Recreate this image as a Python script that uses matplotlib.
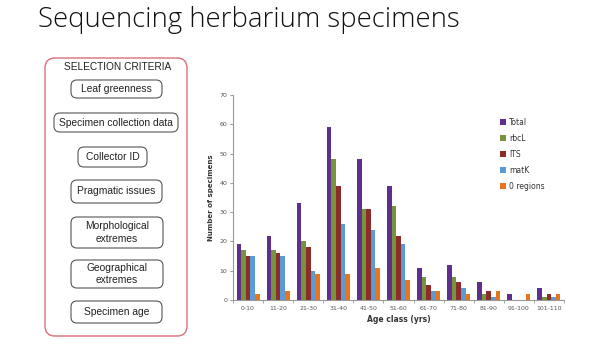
import matplotlib
matplotlib.use('Agg')
import matplotlib.pyplot as plt
import numpy as np
from matplotlib.patches import FancyBboxPatch

# 数据
age_classes = ['0-10', '11-20', '21-30', '31-40', '41-50', '51-60',
               '61-70', '71-80', '81-90', '91-100', '101-110']
total = [19, 22, 33, 59, 48, 39, 11, 12, 6, 2, 4]
rbcl = [17, 17, 20, 48, 31, 32, 8, 8, 2, 0, 1]
its = [15, 16, 18, 39, 31, 22, 5, 6, 3, 0, 2]
matk = [15, 15, 10, 26, 24, 19, 3, 4, 1, 0, 1]
zero_regions = [2, 3, 9, 9, 11, 7, 3, 2, 3, 2, 2]
series_names = ['Total', 'rbcL', 'ITS', 'matK', '0 regions']
y_ticks = [0, 10, 20, 30, 40, 50, 60, 70]

criteria = ['Leaf greenness', 'Specimen collection data', 'Collector ID',
            'Pragmatic issues', 'Morphological\nextremes',
            'Geographical\nextremes', 'Specimen age']

colors = ['#5f2f8f', '#77933c', '#8b2e2b', '#5b9bd5', '#e8741e']

fig = plt.figure(figsize=(6, 3.5), dpi=100)
fig.patch.set_facecolor('white')

# 覆盖层 (像素坐标)
ov = fig.add_axes([0, 0, 1, 1])
ov.set_xlim(0, 600)
ov.set_ylim(350, 0)
ov.axis('off')

ov.text(38, 20, 'Sequencing herbarium specimens', fontsize=19.8,
        family='Open Sans', fontweight='light', color='#111111',
        va='center', ha='left')

# 外框
ov.add_patch(FancyBboxPatch((45, 58), 142, 278,
                            boxstyle='round,pad=0,rounding_size=10',
                            fc='white', ec='#d9707a', lw=1.0))
ov.text(118, 67, 'SELECTION CRITERIA', fontsize=7.3, ha='center',
        va='center', color='#222222', family='Liberation Sans')

# 内框: (x0, x1, y0, y1)
boxes = [(71, 162, 80, 98), (54, 178, 113, 132), (78, 147, 147, 167),
         (71, 162, 180, 203), (71, 163, 217, 248), (71, 163, 260, 288),
         (71, 162, 301, 323)]
for (x0, x1, y0, y1), label in zip(boxes, criteria):
    ov.add_patch(FancyBboxPatch((x0, y0), x1 - x0, y1 - y0,
                                boxstyle='round,pad=0,rounding_size=6',
                                fc='white', ec='#555555', lw=0.8))
    ov.text((x0 + x1) / 2, (y0 + y1) / 2, label, fontsize=7.4, ha='center',
            va='center', color='#222222', family='Liberation Sans',
            linespacing=1.3)

# 柱状图
ax = fig.add_axes([233 / 600, 50 / 350, 331 / 600, 205 / 350])
x = np.arange(len(age_classes))
w = 0.153
for j, (vals, name) in enumerate(zip([total, rbcl, its, matk, zero_regions],
                                     series_names)):
    ax.bar(x + (j - 2) * w, vals, w, color=colors[j], label=name)

ax.set_xlim(-0.5, len(age_classes) - 0.5)
ax.set_ylim(0, 70)
ax.set_yticks(y_ticks)
ax.set_xticks(x)
ax.set_xticklabels(age_classes)
ax.set_xticks(np.arange(-0.5, len(age_classes)), minor=True)
ax.tick_params(axis='x', which='major', length=0, labelsize=4.5,
               labelcolor='#555555', pad=4)
ax.tick_params(axis='x', which='minor', length=2, color='#999999')
ax.tick_params(axis='y', length=2, color='#999999', labelsize=4.5,
               labelcolor='#555555', pad=2)
for s in ['top', 'right']:
    ax.spines[s].set_visible(False)
for s in ['left', 'bottom']:
    ax.spines[s].set_color('#999999')
    ax.spines[s].set_linewidth(0.8)

ax.set_ylabel('Number of specimens', fontsize=5, fontweight='bold',
              color='#333333', labelpad=4)
ax.set_xlabel('Age class (yrs)', fontsize=5.5, fontweight='bold',
              color='#333333', labelpad=3)

leg = ax.legend(loc='upper left', bbox_to_anchor=(497 / 600, 1 - 115 / 350),
                bbox_transform=fig.transFigure, frameon=False, fontsize=5.5,
                handlelength=0.8, handleheight=0.8, handletextpad=0.4,
                labelspacing=0.9, borderaxespad=0)
for t in leg.get_texts():
    t.set_color('#333333')

fig.savefig('out.png', dpi=100)
